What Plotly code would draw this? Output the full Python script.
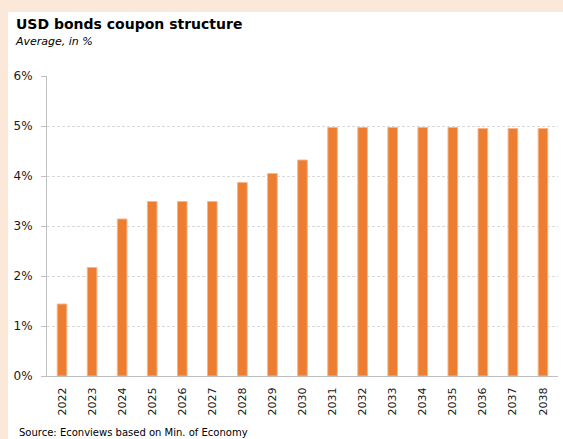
import plotly.graph_objects as go

# Average coupon of USD bonds by maturity year, in %
years = ["2022", "2023", "2024", "2025", "2026", "2027", "2028", "2029", "2030",
         "2031", "2032", "2033", "2034", "2035", "2036", "2037", "2038"]
coupon = [1.44, 2.17, 3.14, 3.49, 3.49, 3.49, 3.87, 4.05, 4.32,
          4.97, 4.97, 4.97, 4.97, 4.97, 4.95, 4.95, 4.95]
y_ticks = [0, 1, 2, 3, 4, 5, 6]

W, H = 563, 439
ML, MR, MT, MB = 47, 5, 76, 63
PW, PH = W - ML - MR, H - MT - MB
FONT = "DejaVu Sans"


def px_x(x):
    """Pixel column -> paper x."""
    return (x - ML) / PW


def px_y(y):
    """Pixel row (from top) -> paper y."""
    return (H - MB - y) / PH


fig = go.Figure(
    go.Bar(
        x=years,
        y=coupon,
        marker=dict(color="#ED7D31", line=dict(color="#F6B68A", width=1)),
        width=0.32,
    )
)

fig.update_layout(
    width=W,
    height=H,
    margin=dict(l=ML, r=MR, t=MT, b=MB),
    paper_bgcolor="#FCE8D9",
    plot_bgcolor="white",
    showlegend=False,
    font=dict(family=FONT, size=12, color="#1a1a1a"),
    shapes=[
        # white card behind the chart
        dict(type="rect", xref="paper", yref="paper", layer="below",
             x0=px_x(8), x1=px_x(W + 5), y0=px_y(H + 5), y1=px_y(12),
             fillcolor="white", line=dict(width=0)),
    ],
    annotations=[
        dict(text="<b>USD bonds coupon structure</b>", xref="paper", yref="paper",
             x=px_x(14), y=px_y(14), xanchor="left", yanchor="top", showarrow=False,
             font=dict(family=FONT, size=14, color="#000000")),
        dict(text="<i>Average, in %</i>", xref="paper", yref="paper",
             x=px_x(13), y=px_y(33), xanchor="left", yanchor="top", showarrow=False,
             font=dict(family=FONT, size=11, color="#000000")),
        dict(text="Source: Econviews based on Min. of Economy", xref="paper", yref="paper",
             x=px_x(17), y=px_y(425), xanchor="left", yanchor="top", showarrow=False,
             font=dict(family=FONT, size=10, color="#000000")),
    ],
)

fig.update_xaxes(
    type="category",
    tickangle=-90,
    showline=True,
    linecolor="#BFBFBF",
    linewidth=1,
    ticks="",
    showgrid=False,
    tickfont=dict(family=FONT, size=11, color="#1a1a1a"),
    ticklabelstandoff=6,
)

fig.update_yaxes(
    range=[0, 6],
    tickvals=y_ticks,
    ticktext=[f"{v}%" for v in y_ticks],
    showline=True,
    linecolor="#BFBFBF",
    linewidth=1,
    ticks="outside",
    ticklen=5,
    tickcolor="#BFBFBF",
    showgrid=True,
    gridcolor="#D9D9D9",
    griddash="3px,2px",
    gridwidth=1,
    zeroline=False,
    tickfont=dict(family=FONT, size=12, color="#1a1a1a"),
    ticklabelstandoff=6,
)

fig.write_html("out.html")
